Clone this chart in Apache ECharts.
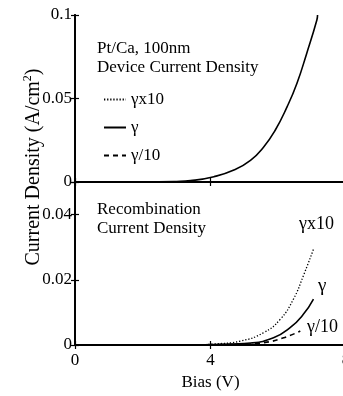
<!DOCTYPE html>
<html>
<head>
<meta charset="utf-8">
<script src="https://cdn.jsdelivr.net/npm/echarts@6/dist/echarts.min.js"></script>
<style>html,body{margin:0;padding:0;background:#fff;}#c{width:343px;height:396px;}</style>
</head>
<body>
<div id="c"></div>
<script>
// Device current density (top panel)
var biasDevice = [0, 1, 2, 3, 3.41, 4.1, 4.69, 5.18, 5.57, 5.91, 6.26, 6.55, 6.84, 7.14, 7.16];
var jDevice    = [0, 0, 0, 0.0003, 0.0008, 0.0032, 0.0072, 0.013, 0.021, 0.031, 0.045, 0.059, 0.077, 0.097, 0.1];
// Recombination current density (bottom panel)
var biasRecX10 = [0, 2, 3.5, 4.1, 4.88, 5.57, 6.06, 6.45, 6.74, 7.04];
var jRecX10    = [0, 0, 0, 0.0003, 0.0012, 0.0038, 0.0079, 0.0141, 0.0212, 0.0294];
var biasRec    = [0, 2, 3.5, 4.0, 4.6, 5.18, 5.86, 6.35, 6.74, 7.04];
var jRec       = [0, 0, 0, 0.0001, 0.0003, 0.0006, 0.0022, 0.0053, 0.0094, 0.0141];
var biasRecD10 = [0, 2, 3.5, 4.2, 4.9, 5.57, 6.16, 6.65];
var jRecD10    = [0, 0, 0, 0.0001, 0.0002, 0.0007, 0.0022, 0.0043];
var xTicks = [0, 4, 8];
var seriesNames = ['\u03b3x10', '\u03b3', '\u03b3/10'];

function pairs(xs, ys) { return xs.map(function (x, i) { return [x, ys[i]]; }); }

var FONT = '"Liberation Serif", "Times New Roman", serif';
var axisLineStyle = { show: true, lineStyle: { color: '#000', width: 1.8 } };
function tick() { return { show: true, inside: true, length: 4, lineStyle: { color: '#000', width: 1.2 } }; }
var labelStyle = { color: '#000', fontFamily: FONT, fontSize: 17 };

var chart = echarts.init(document.getElementById('c'), null, { renderer: 'canvas' });
chart.setOption({
  animation: false,
  backgroundColor: '#fff',
  color: ['#000', '#000', '#000', '#000'],
  grid: [
    { left: 75, width: 271, top: 15, height: 167, outerBoundsMode: 'none', containLabel: false },
    { left: 75, width: 271, top: 182, height: 163, outerBoundsMode: 'none', containLabel: false }
  ],
  xAxis: [
    { gridIndex: 0, type: 'value', min: xTicks[0], max: xTicks[2], interval: xTicks[1] - xTicks[0],
      axisLine: axisLineStyle, axisTick: tick(), axisLabel: { show: false }, splitLine: { show: false } },
    { gridIndex: 1, type: 'value', min: xTicks[0], max: xTicks[2], interval: xTicks[1] - xTicks[0],
      axisLine: axisLineStyle, axisTick: tick(), axisLabel: Object.assign({ margin: 7 }, labelStyle),
      splitLine: { show: false },
      name: 'Bias (V)', nameLocation: 'middle', nameGap: 29,
      nameTextStyle: { color: '#000', fontFamily: FONT, fontSize: 17 } },
    { gridIndex: 0, type: 'value', position: 'top', min: 0, max: 8, interval: 4,
      axisLine: axisLineStyle, axisTick: tick(), axisLabel: { show: false }, splitLine: { show: false } },
    { gridIndex: 1, type: 'value', position: 'top', min: 0, max: 8, interval: 4,
      axisLine: axisLineStyle, axisTick: tick(), axisLabel: { show: false }, splitLine: { show: false } }
  ],
  yAxis: [
    { gridIndex: 0, type: 'value', min: 0, max: 0.1, interval: 0.05,
      axisLine: axisLineStyle, axisTick: tick(), axisLabel: Object.assign({ margin: 3 }, labelStyle),
      splitLine: { show: false } },
    { gridIndex: 1, type: 'value', min: 0, max: 0.05, interval: 0.02,
      axisLine: axisLineStyle, axisTick: tick(),
      axisLabel: Object.assign({ margin: 3, showMaxLabel: false }, labelStyle),
      splitLine: { show: false } },
    { gridIndex: 0, type: 'value', position: 'right', min: 0, max: 0.1, interval: 0.05,
      axisLine: axisLineStyle, axisTick: tick(), axisLabel: { show: false }, splitLine: { show: false } },
    { gridIndex: 1, type: 'value', position: 'right', min: 0, max: 0.05, interval: 0.02,
      axisLine: axisLineStyle, axisTick: tick(), axisLabel: { show: false }, splitLine: { show: false } }
  ],
  legend: {
    data: seriesNames,
    orient: 'vertical',
    left: 98, top: 86,
    itemWidth: 22, itemHeight: 14, itemGap: 11,
    itemStyle: { opacity: 0 },
    textStyle: { color: '#000', fontFamily: FONT, fontSize: 17 },
    inactiveColor: '#000'
  },
  series: [
    { name: 'Device', type: 'line', xAxisIndex: 0, yAxisIndex: 0, data: pairs(biasDevice, jDevice),
      smooth: true, symbol: 'none', itemStyle: { color: '#000' }, lineStyle: { color: '#000', width: 1.6, type: 'solid' } },
    { name: seriesNames[0], type: 'line', xAxisIndex: 1, yAxisIndex: 1, data: pairs(biasRecX10, jRecX10),
      smooth: true, symbol: 'none', itemStyle: { color: '#000' }, lineStyle: { color: '#000', width: 1.3, type: [1.3, 1.8] } },
    { name: seriesNames[1], type: 'line', xAxisIndex: 1, yAxisIndex: 1, data: pairs(biasRec, jRec),
      smooth: true, symbol: 'none', itemStyle: { color: '#000' }, lineStyle: { color: '#000', width: 1.6, type: 'solid' } },
    { name: seriesNames[2], type: 'line', xAxisIndex: 1, yAxisIndex: 1, data: pairs(biasRecD10, jRecD10),
      smooth: true, symbol: 'none', itemStyle: { color: '#000' }, lineStyle: { color: '#000', width: 1.6, type: [5, 4] } }
  ],
  graphic: [
    { type: 'text', left: 97, top: 40, style: { text: 'Pt/Ca, 100nm', fill: '#000', font: '17px "Liberation Serif"' } },
    { type: 'text', left: 97, top: 59, style: { text: 'Device Current Density', fill: '#000', font: '17px "Liberation Serif"' } },
    { type: 'text', left: 97, top: 201, style: { text: 'Recombination', fill: '#000', font: '17px "Liberation Serif"' } },
    { type: 'text', left: 97, top: 220, style: { text: 'Current Density', fill: '#000', font: '17px "Liberation Serif"' } },
    { type: 'text', left: 299, top: 215, style: { text: '\u03b3x10', fill: '#000', font: '18px "Liberation Serif"' } },
    { type: 'text', left: 318, top: 277, style: { text: '\u03b3', fill: '#000', font: '19px "Liberation Serif"' } },
    { type: 'text', left: 307, top: 318, style: { text: '\u03b3/10', fill: '#000', font: '18px "Liberation Serif"' } },
    { type: 'text', x: 33, y: 167, rotation: Math.PI / 2,
      style: { text: '{m|Current Density (A/cm}{s|2}{m|)}', align: 'center', verticalAlign: 'middle',
        rich: { m: { fontFamily: FONT, fontSize: 20, color: '#000', lineHeight: 22, verticalAlign: 'bottom' },
                s: { fontFamily: FONT, fontSize: 12, color: '#000', lineHeight: 22, verticalAlign: 'top', padding: [0, 0, 10, 0] } } } }
  ]
});
</script>
</body>
</html>
